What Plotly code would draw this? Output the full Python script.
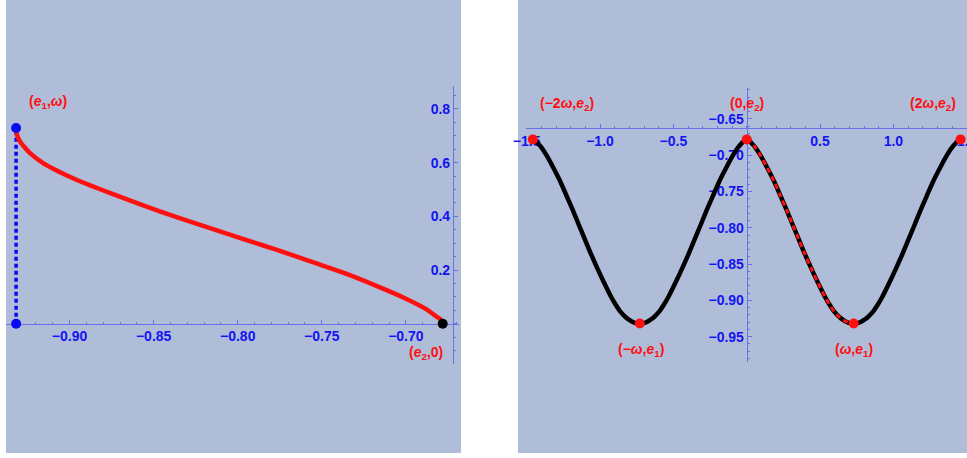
import numpy as np
import plotly.graph_objects as go

# ---------------- data ----------------
e1 = -0.9318          # lower root
e2 = -0.6781          # upper root
omega = 0.729         # half period

# left panel: red curve, x = e, y = t
curve_e = [-0.9318, -0.9313, -0.9294, -0.9265, -0.9235, -0.9155, -0.9056, -0.8956,
           -0.8757, -0.8558, -0.8359, -0.8160, -0.7961, -0.7762, -0.7563, -0.7364,
           -0.7165, -0.7006, -0.6887, -0.6817, -0.6791, -0.6781]
curve_t = [0.729, 0.703, 0.678, 0.655, 0.635, 0.597, 0.564, 0.535,
           0.486, 0.440, 0.396, 0.355, 0.314, 0.274, 0.231, 0.188,
           0.138, 0.095, 0.057, 0.026, 0.014, 0.0]

# tick labels
left_xticks = [-0.90, -0.85, -0.80, -0.75, -0.70]
left_xtext = ["\u22120.90", "\u22120.85", "\u22120.80", "\u22120.75", "\u22120.70"]
left_yticks = [0.2, 0.4, 0.6, 0.8]
left_ytext = ["0.2", "0.4", "0.6", "0.8"]
right_xticks = [-1.5, -1.0, -0.5, 0.5, 1.0, 1.5]
right_xtext = ["\u22121.5", "\u22121.0", "\u22120.5", "0.5", "1.0", "1.5"]
right_yticks = [-0.65, -0.70, -0.75, -0.80, -0.85, -0.90, -0.95]
right_ytext = ["\u22120.65", "\u22120.70", "\u22120.75", "\u22120.80", "\u22120.85",
               "\u22120.90", "\u22120.95"]

# ---------------- styling ----------------
W, H = 967, 458
BG = "#AFBDD9"
AX = "#6E6EE6"
TICKC = "#1414F0"
RED = "#FF1010"
FONT = "Liberation Sans, Arial, sans-serif"

def px_x(p):
    return p / W

def px_y(p):
    return (H - p) / H

def frac(v, rng, dom):
    return dom[0] + (v - rng[0]) / (rng[1] - rng[0]) * (dom[1] - dom[0])

L_xdom = [px_x(6), px_x(459)]
L_ydom = [px_y(364), px_y(86)]
L_xr = [-0.9378, -0.6684]
L_yr = [-0.1501, 0.8853]
L_ycross = -0.672   # x value where left vertical axis sits

R_xdom = [px_x(526.4), 1.0]
R_ydom = [px_y(362), px_y(88)]
R_xr = [-1.5018, 1.5017]
R_yr = [-0.9849, -0.6073]
R_xcross = -0.6628  # y value where right horizontal axis sits

# right panel curve built from the read quarter period by its symmetry
t_asc = curve_t[::-1]
e_asc = curve_e[::-1]
q1x = list(t_asc);                      q1y = list(e_asc)          # 0 .. w
q2x = [2 * omega - t for t in curve_t]; q2y = list(curve_e)        # w .. 2w
q0x = [-t for t in curve_t];            q0y = list(curve_e)        # -w .. 0
qmx = [-(2 * omega - t) for t in t_asc]; qmy = list(e_asc)         # -2w .. -w
full_x = qmx + q0x[1:] + q1x[1:] + q2x[1:]
full_y = qmy + q0y[1:] + q1y[1:] + q2y[1:]

fig = go.Figure()

# ---- left panel ----
fig.add_trace(go.Scatter(x=[e1, e1], y=[0, omega], mode="lines",
                         line=dict(color="#0A0AF5", width=3.5, dash="4px,3px"),
                         xaxis="x", yaxis="y", showlegend=False, hoverinfo="skip"))
fig.add_trace(go.Scatter(x=curve_e, y=curve_t, mode="lines",
                         line=dict(color=RED, width=4.5, shape="spline", smoothing=0.8),
                         xaxis="x", yaxis="y", showlegend=False, cliponaxis=False))
fig.add_trace(go.Scatter(x=[e1, e1], y=[omega, 0], mode="markers",
                         marker=dict(color="#0A0AF5", size=10),
                         xaxis="x", yaxis="y", showlegend=False, cliponaxis=False))
fig.add_trace(go.Scatter(x=[e2], y=[0], mode="markers",
                         marker=dict(color="black", size=10),
                         xaxis="x", yaxis="y", showlegend=False, cliponaxis=False))

# ---- right panel ----
fig.add_trace(go.Scatter(x=full_x, y=full_y, mode="lines",
                         line=dict(color="black", width=4.5, shape="spline", smoothing=0.8),
                         xaxis="x2", yaxis="y2", showlegend=False, cliponaxis=False))
fig.add_trace(go.Scatter(x=q1x, y=q1y, mode="lines",
                         line=dict(color=RED, width=3, dash="5px,4px",
                                   shape="spline", smoothing=0.8),
                         xaxis="x2", yaxis="y2", showlegend=False, cliponaxis=False))
fig.add_trace(go.Scatter(x=[-2 * omega, -omega, 0, omega, 2 * omega],
                         y=[e2, e1, e2, e1, e2], mode="markers",
                         marker=dict(color=RED, size=10),
                         xaxis="x2", yaxis="y2", showlegend=False, cliponaxis=False))

def axis_common():
    return dict(showgrid=False, zeroline=False, showline=True, linecolor=AX, linewidth=1,
                ticks="inside", ticklen=4, tickwidth=1, tickcolor=AX,
                tickfont=dict(family=FONT, size=14, color=TICKC, weight="bold"),
                layer="below traces", tickmode="array", fixedrange=True,
                ticklabeloverflow="allow", automargin=False)

lx = axis_common()
lx.update(domain=L_xdom, range=L_xr, anchor="free",
          position=frac(0, L_yr, L_ydom), side="bottom",
          tickvals=left_xticks, ticktext=left_xtext,
          minor=dict(tickvals=list(np.round(np.arange(-0.93, -0.669, 0.01), 3)),
                     ticks="inside", ticklen=2, tickcolor=AX))
ly = axis_common()
ly.update(domain=L_ydom, range=L_yr, anchor="free",
          position=frac(L_ycross, L_xr, L_xdom), side="left",
          tickvals=left_yticks, ticktext=left_ytext,
          minor=dict(tickvals=list(np.round(np.arange(-0.15, 0.88, 0.05), 3)),
                     ticks="inside", ticklen=2, tickcolor=AX))
rx = axis_common()
rx.update(domain=R_xdom, range=R_xr, anchor="free",
          position=frac(R_xcross, R_yr, R_ydom), side="bottom",
          tickvals=right_xticks, ticktext=right_xtext,
          minor=dict(tickvals=list(np.round(np.arange(-1.5, 1.51, 0.1), 2)),
                     ticks="inside", ticklen=2, tickcolor=AX))
ry = axis_common()
ry.update(domain=R_ydom, range=R_yr, anchor="free",
          position=frac(0, R_xr, R_xdom), side="left",
          tickvals=right_yticks, ticktext=right_ytext,
          minor=dict(tickvals=list(np.round(np.arange(-0.98, -0.605, 0.01), 3)),
                     ticks="inside", ticklen=2, tickcolor=AX))

shapes = [
    dict(type="rect", xref="paper", yref="paper", x0=px_x(6), x1=px_x(461),
         y0=px_y(453), y1=1, fillcolor=BG, line=dict(width=0), layer="below"),
    dict(type="rect", xref="paper", yref="paper", x0=px_x(518), x1=1,
         y0=px_y(453), y1=1, fillcolor=BG, line=dict(width=0), layer="below"),
]

def lab(text, x, y, xr, yr, dx, dy):
    return dict(text="<b>" + text + "</b>", x=x, y=y, xref=xr, yref=yr,
                showarrow=False, xshift=dx, yshift=dy,
                font=dict(family=FONT, size=14, color=RED))

E1 = "<i>e</i><sub>1</sub>"
E2 = "<i>e</i><sub>2</sub>"
W_ = "<i>ω</i>"
annotations = [
    lab("(" + E1 + "," + W_ + ")", e1, omega, "x", "y", 32, 26),
    lab("(" + E2 + ",0)", e2, 0, "x", "y", -17, -29),
    lab("(\u22122" + W_ + "," + E2 + ")", -2 * omega, e2, "x2", "y2", 34, 35),
    lab("(0," + E2 + ")", 0, e2, "x2", "y2", 0, 35),
    lab("(2" + W_ + "," + E2 + ")", 2 * omega, e2, "x2", "y2", -28, 35),
    lab("(\u2212" + W_ + "," + E1 + ")", -omega, e1, "x2", "y2", 1, -27),
    lab("(" + W_ + "," + E1 + ")", omega, e1, "x2", "y2", 0, -27),
]

fig.update_layout(
    width=W, height=H, margin=dict(l=0, r=0, t=0, b=0, autoexpand=False),
    paper_bgcolor="white", plot_bgcolor="rgba(0,0,0,0)",
    xaxis=lx, yaxis=ly, xaxis2=rx, yaxis2=ry,
    shapes=shapes, annotations=annotations, showlegend=False,
    font=dict(family=FONT),
)

fig.write_html("out.html", config={"displayModeBar": False},
               post_script="document.body.style.margin='0px';document.body.style.overflow='hidden';")
